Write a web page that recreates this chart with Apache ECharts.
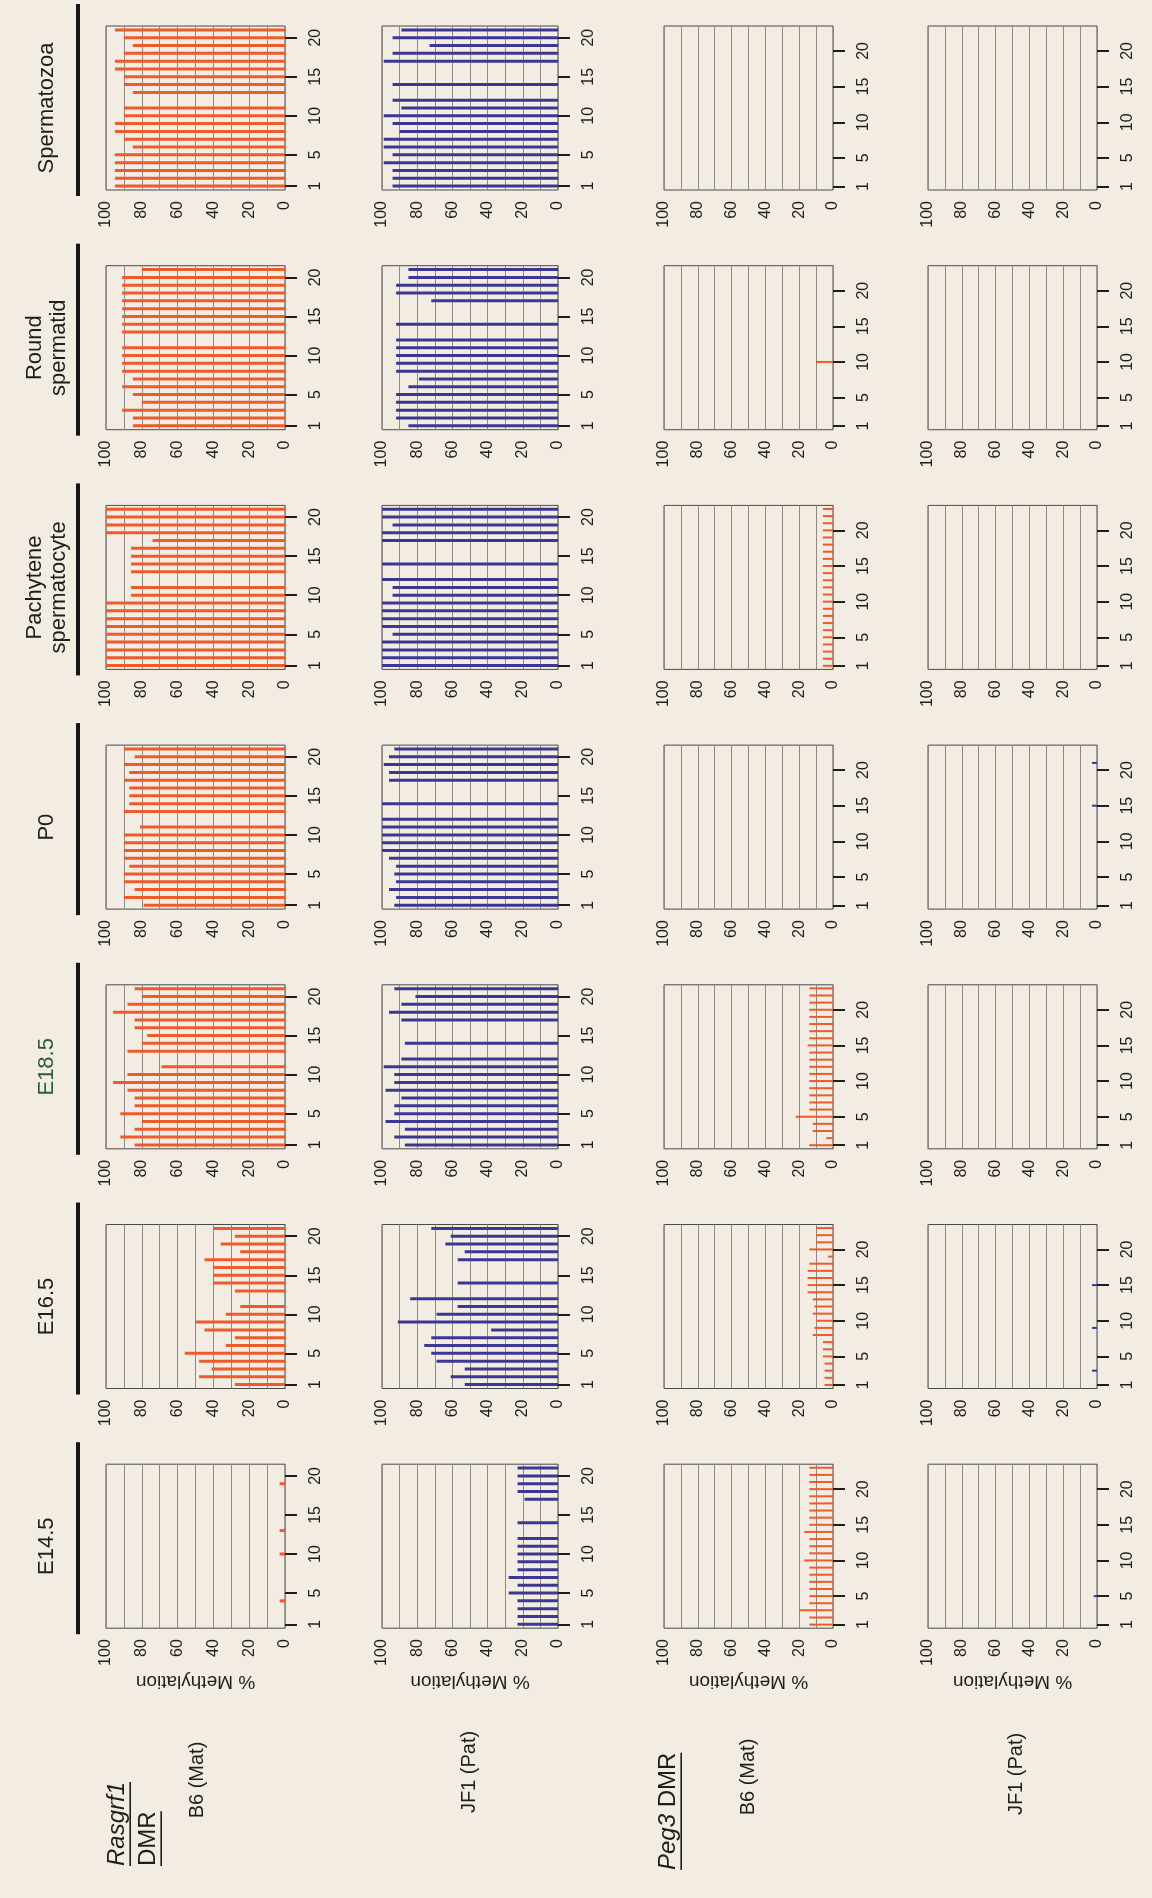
<!DOCTYPE html>
<html>
<head>
<meta charset="utf-8">
<script src="https://cdn.jsdelivr.net/npm/echarts@6/dist/echarts.min.js"></script>
<style>
  html, body { margin: 0; padding: 0; background: #f3ece2; }
  #chart { width: 1152px; height: 1898px; }
</style>
</head>
<body>
<div id="chart"></div>
<script>
// Developmental stages, one column of panels each (drawn bottom to top)
const timePoints = ['E14.5', 'E16.5', 'E18.5', 'P0', 'Pachytene\nspermatocyte', 'Round\nspermatid', 'Spermatozoa'];
const headerColors = ['#1e1e1e', '#1e1e1e', '#2a5e35', '#1e1e1e', '#1e1e1e', '#1e1e1e', '#1e1e1e'];

// CpG site numbers for each DMR
const cpgRasgrf1 = ['1','2','3','4','5','6','7','8','9','10','11','12','13','14','15','16','17','18','19','20','21'];
const cpgPeg3 = ['1','2','3','4','5','6','7','8','9','10','11','12','13','14','15','16','17','18','19','20','21','22','23'];
const cpgTickLabels = ['1', '5', '10', '15', '20'];

// Sites without a call on each allele (marked with an asterisk)
const rasB6Missing = ['12'];
const rasJF1Missing = ['13', '15', '16'];

// Rasgrf1 DMR, B6 (maternal) allele, % methylation per CpG
const rasB6E145 = [0,0,0,3,0,0,0,0,0,3,0,null,3,0,0,0,0,0,3,0,0];
const rasB6E165 = [28,48,41,48,56,33,28,45,50,33,25,null,28,40,40,40,45,25,36,28,40];
const rasB6E185 = [84,92,84,80,92,84,84,88,96,88,69,null,88,80,77,84,84,96,88,80,84];
const rasB6P0   = [79,90,84,90,90,87,90,90,90,90,81,null,90,87,87,87,90,87,90,84,90];
const rasB6Pach = [100,100,100,100,100,100,100,100,100,86,86,null,86,86,86,86,74,100,100,100,100];
const rasB6Rnd  = [85,85,91,80,85,91,85,91,91,91,91,null,91,91,91,91,91,91,91,91,80];
const rasB6Spz  = [95,95,95,95,95,85,90,95,95,90,90,null,85,90,90,95,95,90,85,90,95];

// Rasgrf1 DMR, JF1 (paternal) allele
const rasJF1E145 = [23,23,23,23,28,23,28,23,23,23,23,23,null,23,null,null,19,23,23,23,23];
const rasJF1E165 = [53,61,53,69,72,76,72,38,91,69,57,84,null,57,null,null,57,53,64,61,72];
const rasJF1E185 = [87,93,87,98,93,93,89,98,93,93,99,89,null,87,null,null,89,96,89,81,93];
const rasJF1P0   = [93,92,96,92,93,92,96,100,100,100,100,100,null,100,null,null,96,96,99,96,93];
const rasJF1Pach = [100,100,100,100,94,100,100,100,100,94,94,100,null,100,null,null,100,100,94,100,100];
const rasJF1Rnd  = [85,92,92,92,92,85,79,92,92,92,92,92,null,92,null,null,72,92,92,85,85];
const rasJF1Spz  = [94,94,94,99,94,99,99,90,94,99,89,94,null,94,null,null,99,94,73,94,89];

// Peg3 DMR, B6 (maternal) allele
const pegB6E145 = [14,14,20,14,14,14,14,14,14,17,14,14,14,17,14,14,14,14,14,14,14,14,14];
const pegB6E165 = [5,5,5,5,6,6,6,12,11,10,12,11,12,15,15,15,15,14,3,14,10,10,10];
const pegB6E185 = [14,4,12,12,22,14,14,14,14,14,14,14,14,14,15,14,14,14,14,14,14,14,14];
const pegB6P0   = [0,0,0,0,0,0,0,0,0,0,0,0,0,0,0,0,0,0,0,0,0,0,0];
const pegB6Pach = [6,6,6,6,6,6,6,6,6,6,6,6,6,6,6,6,6,6,6,6,6,6,6];
const pegB6Rnd  = [0,0,0,0,0,0,0,0,0,10,0,0,0,0,0,0,0,0,0,0,0,0,0];
const pegB6Spz  = [0,0,0,0,0,0,0,0,0,0,0,0,0,0,0,0,0,0,0,0,0,0,0];

// Peg3 DMR, JF1 (paternal) allele
const pegJF1E145 = [0,0,0,0,2,0,0,0,0,0,0,0,0,0,0,0,0,0,0,0,0,0,0];
const pegJF1E165 = [0,0,3,0,0,0,0,0,3,0,0,0,0,0,3,0,0,0,0,0,0,0,0];
const pegJF1E185 = [0,0,0,0,0,0,0,0,0,0,0,0,0,0,0,0,0,0,0,0,0,0,0];
const pegJF1P0   = [0,0,0,0,0,0,0,0,0,0,0,0,0,0,3,0,0,0,0,0,3,0,0];
const pegJF1Pach = [0,0,0,0,0,0,0,0,0,0,0,0,0,0,0,0,0,0,0,0,0,0,0];
const pegJF1Rnd  = [0,0,0,0,0,0,0,0,0,0,0,0,0,0,0,0,0,0,0,0,0,0,0];
const pegJF1Spz  = [0,0,0,0,0,0,0,0,0,0,0,0,0,0,0,0,0,0,0,0,0,0,0];

const RED = '#ef5a2c';
const BLUE = '#3b3894';
const FONT = '"Liberation Sans", Arial, Helvetica, sans-serif';
const INK = '#1e1e1e';

// One entry per allele row of panels (left to right on the page)
const alleleRows = [
  { series: [rasB6E145, rasB6E165, rasB6E185, rasB6P0, rasB6Pach, rasB6Rnd, rasB6Spz],
    cats: cpgRasgrf1, missing: rasB6Missing, color: RED, left: 106, width: 179, barW: 3 },
  { series: [rasJF1E145, rasJF1E165, rasJF1E185, rasJF1P0, rasJF1Pach, rasJF1Rnd, rasJF1Spz],
    cats: cpgRasgrf1, missing: rasJF1Missing, color: BLUE, left: 382, width: 176, barW: 3 },
  { series: [pegB6E145, pegB6E165, pegB6E185, pegB6P0, pegB6Pach, pegB6Rnd, pegB6Spz],
    cats: cpgPeg3, missing: [], color: RED, left: 664, width: 169, barW: 2 },
  { series: [pegJF1E145, pegJF1E165, pegJF1E185, pegJF1P0, pegJF1Pach, pegJF1Rnd, pegJF1Spz],
    cats: cpgPeg3, missing: [], color: BLUE, left: 928, width: 169, barW: 2 }
];

const BOX_H = 164;
const STEP = 239.7;
const TOP0 = 26;
const boxTop = (t) => TOP0 + (timePoints.length - 1 - t) * STEP;

const grids = [], xAxes = [], yAxes = [], series = [], graphics = [];

alleleRows.forEach((row, r) => {
  timePoints.forEach((tp, t) => {
    const g = grids.length;
    const top = boxTop(t);
    grids.push({
      left: row.left, top: top, width: row.width, height: BOX_H,
      show: true, borderColor: '#4a4a4a', borderWidth: 1, backgroundColor: 'transparent',
      containLabel: false
    });
    xAxes.push({
      gridIndex: g, type: 'value', min: 0, max: 100, interval: 10, inverse: true,
      axisLine: { show: false }, axisTick: { show: false },
      splitLine: { show: true, lineStyle: { color: '#8e8a86', width: 1 } },
      axisLabel: {
        rotate: 90, margin: 11, fontSize: 16, color: INK, fontFamily: FONT,
        formatter: (v) => (v % 20 === 0 ? String(v) : '')
      }
    });
    const tickFn = (idx, val) => cpgTickLabels.indexOf(String(val)) >= 0;
    yAxes.push({
      gridIndex: g, type: 'category', data: row.cats, position: 'right', offset: 5,
      axisLine: { show: false },
      axisTick: { show: true, alignWithLabel: true, length: 12, interval: tickFn,
                  lineStyle: { color: INK, width: 2 } },
      axisLabel: { show: true, interval: tickFn, rotate: 90, margin: 18, fontSize: 16,
                   color: INK, fontFamily: FONT },
      splitLine: { show: false }
    });
    series.push({
      type: 'bar', xAxisIndex: g, yAxisIndex: g, data: row.series[t],
      barWidth: row.barW, itemStyle: { color: row.color }, silent: true
    });
    if (row.missing.length) {
      series.push({
        type: 'scatter', xAxisIndex: g, yAxisIndex: g,
        data: row.missing.map((c) => [3, c]),
        symbol: 'circle', symbolSize: 1, itemStyle: { opacity: 0 }, silent: true,
        label: { show: true, position: 'inside', formatter: '*', rotate: 90,
                 fontSize: 15, fontWeight: 'bold', color: '#111', fontFamily: FONT }
      });
    }
    // axis title under the first stage only (turned half a revolution)
    if (t === 0) {
      graphics.push({
        type: 'text', x: row.left + row.width / 2, y: top + BOX_H + 53, rotation: Math.PI,
        style: { text: '% Methylation', font: '19px ' + FONT, fill: INK,
                 align: 'center', verticalAlign: 'middle' }
      });
    }
  });
});

// Stage headers with their rules
timePoints.forEach((tp, t) => {
  const top = boxTop(t);
  graphics.push({
    type: 'text', x: 47, y: top + BOX_H / 2, rotation: Math.PI / 2,
    style: { text: tp, font: '22px ' + FONT, fill: headerColors[t], align: 'center',
             verticalAlign: 'middle', lineHeight: 24 }
  });
  graphics.push({
    type: 'line', shape: { x1: 78, y1: top - 22, x2: 78, y2: top + BOX_H + 6 },
    style: { stroke: '#161616', lineWidth: 4 }
  });
});

// Row labels along the bottom edge
const measureCtx = document.createElement('canvas').getContext('2d');
function textWidth(str, font) { measureCtx.font = font; return measureCtx.measureText(str).width; }

function vText(text, x, y, size, opts) {
  const o = opts || {};
  const font = (o.italic ? 'italic ' : '') + size + 'px ' + FONT;
  graphics.push({
    type: 'text', x: x, y: y, rotation: Math.PI / 2,
    style: { text: text, font: font, fill: INK, align: o.align || 'center', verticalAlign: 'middle' }
  });
  if (o.underline) {
    const w = textWidth(text, font);
    const ux = x + size * 0.55;
    const y0 = o.align === 'left' ? y : y + w / 2;
    graphics.push({
      type: 'line', shape: { x1: ux, y1: y0, x2: ux, y2: y0 - w },
      style: { stroke: INK, lineWidth: 1.6 }
    });
  }
}

vText('Rasgrf1', 117, 1866, 24, { italic: true, underline: true, align: 'left' });
vText('DMR', 148, 1866, 24, { underline: true, align: 'left' });
vText('B6 (Mat)', 197, 1780, 20);
vText('JF1 (Pat)', 469, 1772, 20);
vText('Peg3', 668, 1870, 24, { italic: true, underline: true, align: 'left' });
const pegW = textWidth('Peg3', 'italic 24px ' + FONT);
vText(' DMR', 668, 1870 - pegW, 24, { underline: true, align: 'left' });
vText('B6 (Mat)', 748, 1777, 20);
vText('JF1 (Pat)', 1016, 1774, 20);

const chart = echarts.init(document.getElementById('chart'), null, { renderer: 'canvas' });
chart.setOption({
  backgroundColor: '#f3ece2',
  animation: false,
  textStyle: { fontFamily: FONT },
  grid: grids,
  xAxis: xAxes,
  yAxis: yAxes,
  series: series,
  graphic: graphics
});
</script>
</body>
</html>
